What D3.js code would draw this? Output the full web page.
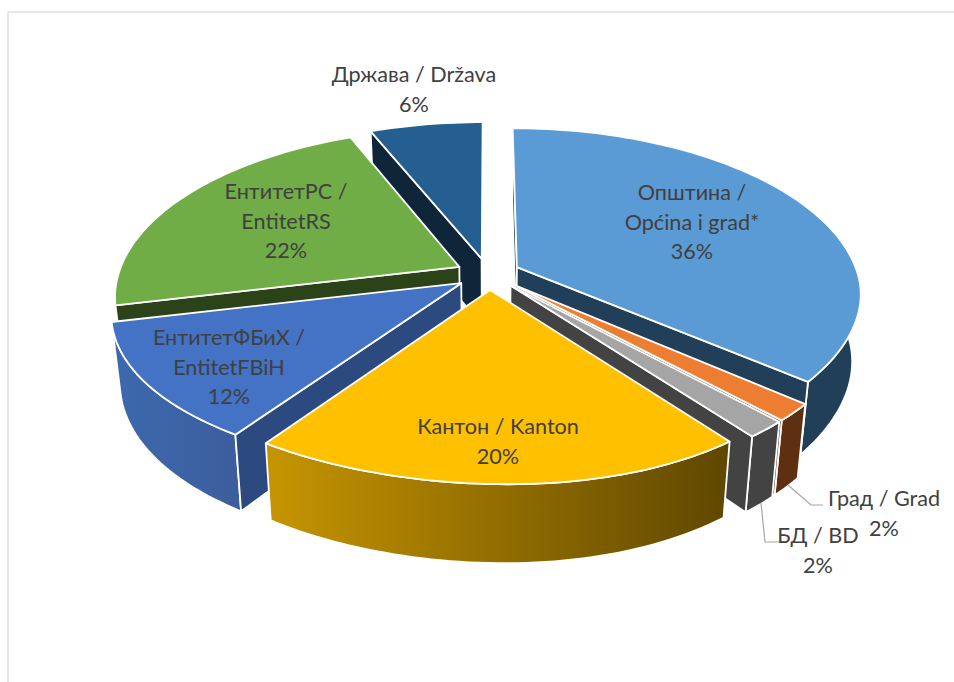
<!DOCTYPE html>
<html>
<head>
<meta charset="utf-8">
<script src="https://cdn.jsdelivr.net/npm/d3@7"></script>
<style>
	html, body { margin: 0; padding: 0; background: #fff; }
	svg { display: block; }
	text { font-family: Lato, "Open Sans", sans-serif; font-size: 21.6px; fill: #404040; text-anchor: middle; }
</style>
</head>
<body>
<svg id="chart" width="954" height="682"></svg>
<script>
// Values in pie order, clockwise from the top. Labels show them rounded.
var categories = ["Општина / Općina i grad*", "Град / Grad", "БД / BD", "Кантон / Kanton", "ЕнтитетФБиХ / EntitetFBiH", "ЕнтитетРС / EntitetRS", "Држава / Država"];
var shares = [35.5, 1.6, 1.6, 20.4, 12.2, 22.4, 6.3];
var labelLines = [["Општина /", "Općina i grad*"], ["Град / Grad"], ["БД / BD"], ["Кантон / Kanton"], ["ЕнтитетФБиХ /", "EntitetFBiH"], ["ЕнтитетРС /", "EntitetRS"], ["Држава / Država"]];

var topColors = ["#5b9bd5", "#ed7d31", "#a5a5a5", "#ffc000", "#4472c4", "#70ad47", "#255e91"];
var faceColors = ["#223f59", "#5f2f12", "#434343", "#604800", "#2c4a80", "#2c4218", "#0e253a"];
var wallFrom = ["#223f59", "#5f2f12", "#434343", "#c69500", "#3d69ae", "#2c4218", "#0e253a"];
var wallTo = ["#223f59", "#5f2f12", "#434343", "#5f4700", "#3c5e9d", "#2c4218", "#0e253a"];

// Paint far slices first
var drawOrder = [6, 5, 0, 4, 1, 2, 3];

// Label centre x and first baseline y, same order as categories
var labelSpots = [[692, 200], [884, 506], [818, 543], [498, 434], [229, 345], [286, 199], [414, 82]];

// Leader lines for the two small slices
var leaders = [
	{ from: [788, 485], mid: [811, 505], to: [823, 505] },
	{ from: [761, 503], mid: [765, 542], to: [779, 542] }
];

var CX = 488, CY = 274;
var RX = 341, RY = 165;
var PERSP = 0.172;
var DEPTH = 66;
var SHRINK = 0.977;
var EXPLODE = 0.095;
var LINE_H = 29.5;

var svg = d3.select("#chart");
var defs = svg.append("defs");

svg.append("rect")
	.attr("x", 8).attr("y", 12)
	.attr("width", 980).attr("height", 720)
	.attr("fill", "none")
	.attr("stroke", "#d9d9d9")
	.attr("stroke-width", 1.3);

var pie = d3.pie().sort(null).value(function(d) { return d; });
var slices = pie(shares);

// Ground plane point to screen. z is 0 on the top face, 1 on the bottom.
function project(u, v, z) {
	var s = 1 / (1 - PERSP * v);
	var shrink = z ? SHRINK : 1;
	var near = Math.max(v, 0);
	// the near half of the picture is skewed a bit, the camera is not centred
	var t = near * near;
	var dx = t * (-16.4 - 20 * u);
	var dy = t * (-0.66 + 16 * u) - 8.7 * t * t;
	var wall = DEPTH * (1 + 0.18 * near) * z;
	return [CX + RX * u * s * shrink + dx, CY + RY * v * s + wall + dy];
}

function rimPoint(slice, a, z) {
	var m = (slice.startAngle + slice.endAngle) / 2;
	return project(Math.sin(a) + EXPLODE * Math.sin(m), -Math.cos(a) - EXPLODE * Math.cos(m), z);
}

function apexPoint(slice, z) {
	var m = (slice.startAngle + slice.endAngle) / 2;
	return project(EXPLODE * Math.sin(m), -EXPLODE * Math.cos(m), z);
}

function rimArc(slice, z) {
	var n = Math.max(4, Math.ceil((slice.endAngle - slice.startAngle) * 40));
	return d3.range(n + 1).map(function(i) {
		return rimPoint(slice, slice.startAngle + (slice.endAngle - slice.startAngle) * i / n, z);
	});
}

var closedLine = d3.line().curve(d3.curveLinearClosed);

function addPoly(pts, fill) {
	svg.append("path")
		.attr("d", closedLine(pts))
		.attr("fill", fill)
		.attr("stroke", "#ffffff")
		.attr("stroke-width", 1.8)
		.attr("stroke-linejoin", "round");
}

function drawSlice(i) {
	var slice = slices[i];
	var top = rimArc(slice, 0);
	var bottom = rimArc(slice, 1);
	var apexTop = apexPoint(slice, 0);
	var apexBottom = apexPoint(slice, 1);
	var first = top[0], last = top[top.length - 1];

	var gradId = "wall-" + i;
	var xs = d3.extent(top, function(p) { return p[0]; });
	var grad = defs.append("linearGradient")
		.attr("id", gradId)
		.attr("gradientUnits", "userSpaceOnUse")
		.attr("x1", xs[0]).attr("x2", xs[1])
		.attr("y1", 0).attr("y2", 0);
	grad.append("stop").attr("offset", 0).attr("stop-color", wallFrom[i]);
	grad.append("stop").attr("offset", 1).attr("stop-color", wallTo[i]);

	addPoly(top.concat(bottom.slice().reverse()), "url(#" + gradId + ")");

	// Cut faces, only when they hang below the top face edge
	if (first[0] < apexTop[0]) {
		addPoly([apexTop, first, bottom[0], apexBottom], faceColors[i]);
	}
	if (last[0] > apexTop[0]) {
		addPoly([apexTop, last, bottom[bottom.length - 1], apexBottom], faceColors[i]);
	}

	addPoly([apexTop].concat(top), topColors[i]);
}

drawOrder.forEach(drawSlice);

leaders.forEach(function(l) {
	svg.append("path")
		.attr("d", d3.line()([l.from, l.mid, l.to]))
		.attr("fill", "none")
		.attr("stroke", "#a6a6a6")
		.attr("stroke-width", 1.2);
});

categories.forEach(function(name, i) {
	var lines = labelLines[i].concat([Math.round(shares[i]) + "%"]);
	var label = svg.append("text").attr("class", "label").attr("data-name", name);
	lines.forEach(function(line, j) {
		label.append("tspan")
			.attr("x", labelSpots[i][0])
			.attr("y", labelSpots[i][1] + j * LINE_H)
			.text(line);
	});
});
</script>
</body>
</html>
